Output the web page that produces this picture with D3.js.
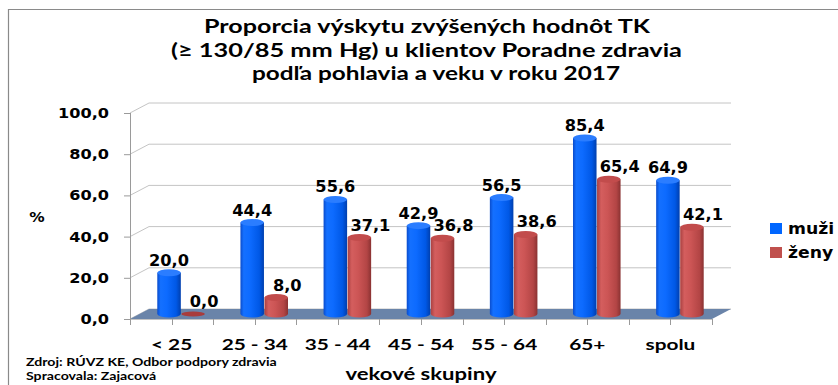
<!DOCTYPE html>
<html>
<head>
<meta charset="utf-8">
<script src="https://cdn.jsdelivr.net/npm/d3@7"></script>
<style>
  html, body { margin: 0; padding: 0; background: #fff; }
  svg { display: block; }
</style>
</head>
<body>
<script>
// Age groups, series and axis ticks
const categories = ["< 25", "25 - 34", "35 - 44", "45 - 54", "55 - 64", "65+", "spolu"];
const seriesNames = ["muži", "ženy"];
const muzi = [20.0, 44.4, 55.6, 42.9, 56.5, 85.4, 64.9];
const zeny = [0.0, 8.0, 37.1, 36.8, 38.6, 65.4, 42.1];
const yTicks = [0, 20, 40, 60, 80, 100];
const titleLines = [
  "Proporcia výskytu zvýšených hodnôt TK",
  "(≥ 130/85 mm Hg) u klientov Poradne zdravia",
  "podľa pohlavia a veku v roku 2017"
];
const sourceLines = ["Zdroj: RÚVZ KE, Odbor podpory zdravia", "Spracovala: Zajacová"];
const xAxisTitle = "vekové skupiny";
const yAxisTitle = "%";

const W = 838, H = 385;
const DX = 19, DY = -10;          // depth offset of the 3D box (front -> back)

const svg = d3.select("body").append("svg").attr("width", W).attr("height", H);
svg.append("rect").attr("width", W).attr("height", H).attr("fill", "#fff");

// chart frame (top and left edges)
svg.append("path").attr("d", `M8.5,${H} L8.5,9.5 L${W},9.5`)
  .attr("fill", "none").attr("stroke", "#8a8a8a").attr("stroke-width", 1.2);

const x = d3.scaleBand().domain(categories).range([130, 712]);
const y = d3.scaleLinear().domain([0, 100]).range([319, 113]);
const x1 = d3.scaleBand().domain(seriesNames).range([0, x.bandwidth()]).paddingOuter(0.73);

const [x0f, x1f] = x.range();

// horizontal text stretch helper: place text at (px,py) scaled by sx
function placeStretched(sel, px, py, sx) {
  sel.attr("x", 0).attr("y", 0)
    .attr("transform", (d, i) => `translate(${typeof px === "function" ? px(d, i) : px},${typeof py === "function" ? py(d, i) : py}) scale(${sx},1)`);
}

// ---- walls: gridlines on back wall and left side wall
const grid = svg.append("g").attr("stroke", "#c4c4c4").attr("stroke-width", 1).attr("fill", "none");
yTicks.forEach(t => {
  const yf = y(t);
  grid.append("path").attr("d", `M${x0f},${yf} L${x0f + DX},${yf + DY} L${x1f + DX},${yf + DY}`);
});

// floor
svg.append("path")
  .attr("d", `M${x0f},${y(0)} L${x1f},${y(0)} L${x1f + DX},${y(0) + DY} L${x0f + DX},${y(0) + DY} Z`)
  .attr("fill", "#6a84a9");

// value axis line and ticks
const axisCol = "#9a9a9a";
svg.append("line").attr("x1", x0f + 0.5).attr("x2", x0f + 0.5).attr("y1", y(0)).attr("y2", y(100))
  .attr("stroke", axisCol);
svg.append("g").selectAll("line").data(yTicks).join("line")
  .attr("x1", x0f - 6).attr("x2", x0f).attr("y1", d => y(d) + 0.5).attr("y2", d => y(d) + 0.5)
  .attr("stroke", axisCol);

// category axis line and ticks (boundaries and centres)
svg.append("line").attr("x1", x0f).attr("x2", x1f).attr("y1", y(0) + 0.5).attr("y2", y(0) + 0.5)
  .attr("stroke", axisCol).attr("stroke-opacity", 0.6);
const catTicks = [];
categories.forEach(c => { catTicks.push(x(c)); catTicks.push(x(c) + x.bandwidth() / 2); });
catTicks.push(x1f);
svg.append("g").selectAll("line").data(catTicks).join("line")
  .attr("x1", d => Math.round(d) + 0.5).attr("x2", d => Math.round(d) + 0.5)
  .attr("y1", y(0)).attr("y2", y(0) + 6).attr("stroke", axisCol);

// ---- cylinder gradients
const defs = svg.append("defs");
function grad(id, stops) {
  const g = defs.append("linearGradient").attr("id", id).attr("x1", "0%").attr("x2", "100%").attr("y1", "0").attr("y2", "0");
  stops.forEach(([o, c]) => g.append("stop").attr("offset", o).attr("stop-color", c));
}
grad("gBlue", [["0%", "#0a4ccc"], ["14%", "#1470ff"], ["40%", "#0d6bff"], ["80%", "#0058e6"], ["100%", "#003fae"]]);
grad("gRed", [["0%", "#a94141"], ["18%", "#d45e5e"], ["45%", "#cc5555"], ["82%", "#b34545"], ["100%", "#8a3232"]]);
const seriesStyle = {
  "muži": { fill: "url(#gBlue)", top: "#2b7dff", legend: "#0066ff" },
  "ženy": { fill: "url(#gRed)", top: "#c24c4c", legend: "#c0504d" }
};

const rows = categories.map((c, i) => ({ cat: c, values: [
  { s: "muži", v: muzi[i] }, { s: "ženy", v: zeny[i] }
]}));

const bw = x1.bandwidth() - 0.5;
const RY = 3.5;
const cxOf = (cat, s) => x(cat) + DX / 2 + x1(s) + x1.bandwidth() / 2;
const yMid = v => y(v) + DY / 2;

const bars = svg.append("g");
rows.forEach(r => {
  r.values.forEach(d => {
    const cx = cxOf(r.cat, d.s), yb = yMid(0), yt = yMid(d.v), rx = bw / 2;
    const st = seriesStyle[d.s];
    if (yb - yt > 0.5) {
      bars.append("path")
        .attr("d", `M${cx - rx},${yt} L${cx - rx},${yb} A${rx},${RY} 0 0 0 ${cx + rx},${yb} L${cx + rx},${yt} Z`)
        .attr("fill", st.fill);
      bars.append("ellipse").attr("cx", cx).attr("cy", yt).attr("rx", rx).attr("ry", RY).attr("fill", st.top);
    } else {
      bars.append("ellipse").attr("cx", cx).attr("cy", yt).attr("rx", rx).attr("ry", RY * 0.7).attr("fill", "#a83c3c");
    }
  });
});

// ---- value labels
const valFont = "'DejaVu Sans', Verdana, sans-serif";
const labelData = [];
rows.forEach(r => r.values.forEach(d => labelData.push({ cat: r.cat, s: d.s, v: d.v })));
const lbl = svg.append("g").selectAll("text").data(labelData).join("text")
  .attr("text-anchor", "middle").attr("font-family", valFont).attr("font-weight", "bold")
  .attr("font-size", 15).attr("fill", "#000")
  .text(d => d3.format(".1f")(d.v).replace(".", ","));
placeStretched(lbl, d => cxOf(d.cat, d.s) + (d.s === "ženy" ? 11 : 0), d => yMid(d.v) - 7, 1.08);

// ---- value axis tick labels
const tl = svg.append("g").selectAll("text").data(yTicks).join("text")
  .attr("text-anchor", "end").attr("font-family", valFont).attr("font-weight", "bold")
  .attr("font-size", 14).attr("fill", "#000")
  .text(d => d3.format(".1f")(d).replace(".", ","));
placeStretched(tl, 109, d => y(d) + 5, 1.15);

// % axis title
const yt = svg.append("text").attr("text-anchor", "middle").attr("font-family", valFont)
  .attr("font-weight", "bold").attr("font-size", 14).text(yAxisTitle);
placeStretched(yt, 37, 222, 1.1);

// ---- category labels
const calFont = "Lato, 'Open Sans', sans-serif";
const cl = svg.append("g").selectAll("text").data(categories).join("text")
  .attr("text-anchor", "middle").attr("font-family", calFont).attr("font-weight", "bold")
  .attr("font-size", 16).attr("fill", "#000").text(d => d);
placeStretched(cl, d => x(d) + x.bandwidth() / 2, 350, 1.3);

// x axis title
const xt = svg.append("text").attr("text-anchor", "middle").attr("font-family", calFont)
  .attr("font-weight", "bold").attr("font-size", 17).text(xAxisTitle);
placeStretched(xt, 421, 380, 1.3);

// ---- title
const titleStarts = [204, 171, 252];
const titleWidths = [446, 511, 368];
const titleBase = [33, 57, 80];
svg.append("g").selectAll("text").data(titleLines).join("text")
  .attr("x", (d, i) => titleStarts[i]).attr("y", (d, i) => titleBase[i])
  .attr("font-family", calFont).attr("font-weight", "bold").attr("font-size", 18)
  .attr("textLength", (d, i) => titleWidths[i]).attr("lengthAdjust", "spacingAndGlyphs")
  .text(d => d);

// ---- source note
const src = svg.append("g").selectAll("text").data(sourceLines).join("text")
  .attr("font-family", calFont).attr("font-weight", "bold").attr("font-size", 11.5).attr("fill", "#000")
  .text(d => d);
const natural = src.nodes()[0].getComputedTextLength();
placeStretched(src, 26, (d, i) => 366 + i * 14, 251 / natural);

// ---- legend
const lg = svg.append("g").selectAll("g").data(seriesNames).join("g")
  .attr("transform", (d, i) => `translate(770,${223 + i * 24})`);
lg.append("rect").attr("width", 12).attr("height", 11).attr("fill", d => seriesStyle[d].legend);
const lt = lg.append("text").attr("font-family", valFont).attr("font-weight", "bold")
  .attr("font-size", 15).text(d => d);
placeStretched(lt, 18, 11, 1.15);
</script>
</body>
</html>
